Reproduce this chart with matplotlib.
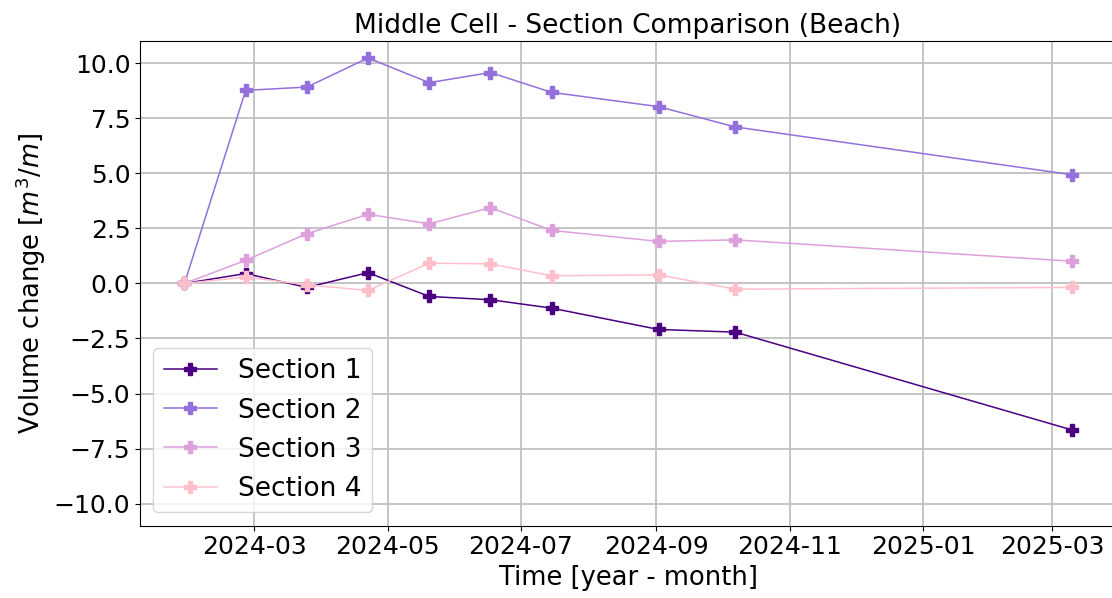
import matplotlib
matplotlib.use("Agg")
import matplotlib.pyplot as plt
import matplotlib.dates as mdates
import pandas as pd

dates = ["2024-01-29", "2024-02-26", "2024-03-25", "2024-04-22", "2024-05-20",
         "2024-06-17", "2024-07-15", "2024-09-02", "2024-10-07", "2025-03-10"]

section_1 = [0.0, 0.45, -0.18, 0.49, -0.59, -0.74, -1.12, -2.09, -2.21, -6.65]
section_2 = [0.0, 8.77, 8.92, 10.24, 9.12, 9.58, 8.68, 8.03, 7.11, 4.94]
section_3 = [0.0, 1.05, 2.26, 3.14, 2.71, 3.44, 2.41, 1.91, 1.98, 1.01]
section_4 = [0.0, 0.29, -0.06, -0.32, 0.92, 0.89, 0.35, 0.39, -0.26, -0.18]

labels = ["Section 1", "Section 2", "Section 3", "Section 4"]
colors = ["#4B0082", "#9370DB", "#DDA0DD", "#FFC0CB"]

x = pd.to_datetime(dates)

fig, ax = plt.subplots(figsize=(11.12, 5.98), dpi=100)
fig.subplots_adjust(left=0.126, right=1.0036, bottom=0.121, top=0.931)

for series, label, color in zip([section_1, section_2, section_3, section_4], labels, colors):
    ax.plot(x, series, marker="P", markersize=8, linewidth=1.1, color=color, label=label)

ax.set_ylim(-11, 11)
ax.xaxis.set_major_locator(mdates.MonthLocator(bymonth=[1, 3, 5, 7, 9, 11]))
ax.xaxis.set_major_formatter(mdates.DateFormatter("%Y-%m"))
ax.tick_params(axis="both", labelsize=18)
ax.grid(True, color="#c0c0c0", linewidth=1.3)
ax.set_axisbelow(True)

ax.set_title("Middle Cell - Section Comparison (Beach)", fontsize=19)
ax.set_xlabel("Time [year - month]", fontsize=18.5)
ax.set_ylabel("Volume change [$m^3/m$]", fontsize=18.5)
ax.legend(loc="lower left", fontsize=19)

fig.savefig("out.png", dpi=100)
